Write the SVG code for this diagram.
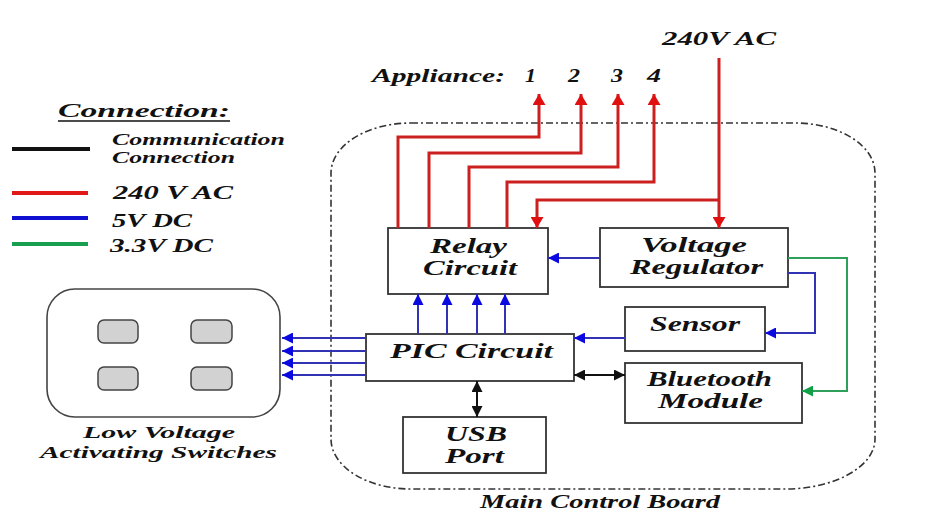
<svg xmlns="http://www.w3.org/2000/svg" width="951" height="517" viewBox="0 0 951 517">
<style>
text{font-family:"Liberation Serif","Times New Roman",serif;font-weight:bold;font-style:italic;fill:#111}
.box{fill:#fff;stroke:#333;stroke-width:1.8}
.red{fill:none;stroke:#cc2020;stroke-width:3}
.blue{fill:none;stroke:#3232b4;stroke-width:2}
.green{fill:none;stroke:#2ea05a;stroke-width:2}
.black{fill:none;stroke:#111;stroke-width:2}
.btn{fill:#d2d2d2;stroke:#444;stroke-width:1.5}
</style>
<defs>
<marker id="ar" markerUnits="userSpaceOnUse" markerWidth="13" markerHeight="13" refX="11" refY="6.5" orient="auto"><path d="M0 0 L11 6.5 L0 13 z" fill="#e01010"/></marker>
<marker id="ab" markerUnits="userSpaceOnUse" markerWidth="12" markerHeight="11" refX="11" refY="5.5" orient="auto"><path d="M0 0 L11 5.5 L0 11 z" fill="#0a0ae0"/></marker>
<marker id="ag" markerUnits="userSpaceOnUse" markerWidth="12" markerHeight="11" refX="11" refY="5.5" orient="auto"><path d="M0 0 L11 5.5 L0 11 z" fill="#10a048"/></marker>
<marker id="ak" markerUnits="userSpaceOnUse" markerWidth="12" markerHeight="11" refX="11" refY="5.5" orient="auto-start-reverse"><path d="M0 0 L11 5.5 L0 11 z" fill="#111"/></marker>
</defs>
<rect width="951" height="517" fill="#fff"/>

<g id="legend">
<text x="58" y="117" font-size="19" textLength="172" lengthAdjust="spacingAndGlyphs">Connection:</text>
<line x1="58" y1="121" x2="230" y2="121" stroke="#111" stroke-width="1.5"/>
<line x1="12" y1="149" x2="90" y2="149" stroke="#111" stroke-width="4"/>
<text x="112" y="145" font-size="16" textLength="173" lengthAdjust="spacingAndGlyphs">Communication</text>
<text x="112" y="163" font-size="16" textLength="123" lengthAdjust="spacingAndGlyphs">Connection</text>
<line x1="12" y1="193" x2="88" y2="193" stroke="#e01818" stroke-width="4"/>
<text x="113" y="199" font-size="18" textLength="120" lengthAdjust="spacingAndGlyphs">240 V AC</text>
<line x1="12" y1="218" x2="88" y2="218" stroke="#1010d0" stroke-width="4"/>
<text x="112" y="227" font-size="18" textLength="80" lengthAdjust="spacingAndGlyphs">5V DC</text>
<line x1="12" y1="244" x2="88" y2="244" stroke="#18a050" stroke-width="4"/>
<text x="110" y="252" font-size="18" textLength="103" lengthAdjust="spacingAndGlyphs">3.3V DC</text>
</g>

<g id="board">
<path d="M411 123 H795 A80 50 0 0 1 875 173 V439 A90 50 0 0 1 785 489 H411 A80 50 0 0 1 331 439 V173 A80 50 0 0 1 411 123 Z" fill="none" stroke="#333" stroke-width="1.6" stroke-dasharray="7 3 2 3"/>
<text x="480" y="508" font-size="18" textLength="240" lengthAdjust="spacingAndGlyphs">Main Control Board</text>
</g>

<g id="labels-top">
<text x="662" y="45" font-size="18" textLength="114" lengthAdjust="spacingAndGlyphs">240V AC</text>
<text x="372" y="82" font-size="18" textLength="133" lengthAdjust="spacingAndGlyphs">Appliance:</text>
<text x="525" y="82" font-size="18" textLength="11" lengthAdjust="spacingAndGlyphs">1</text>
<text x="568" y="82" font-size="18" textLength="12" lengthAdjust="spacingAndGlyphs">2</text>
<text x="611" y="82" font-size="18" textLength="12" lengthAdjust="spacingAndGlyphs">3</text>
<text x="647" y="82" font-size="18" textLength="14" lengthAdjust="spacingAndGlyphs">4</text>
</g>

<g id="switches">
<rect x="47" y="289" width="233" height="128" rx="28" fill="#fff" stroke="#444" stroke-width="1.6"/>
<rect class="btn" x="98" y="320" width="40" height="23" rx="6"/>
<rect class="btn" x="191" y="320" width="41" height="23" rx="6"/>
<rect class="btn" x="98" y="367" width="40" height="23" rx="6"/>
<rect class="btn" x="191" y="367" width="41" height="23" rx="6"/>
<text x="83" y="438" font-size="17" textLength="152" lengthAdjust="spacingAndGlyphs">Low Voltage</text>
<text x="40" y="458" font-size="17" textLength="237" lengthAdjust="spacingAndGlyphs">Activating Switches</text>
</g>

<g id="relay">
<rect class="box" x="388" y="228" width="160" height="66"/>
<text x="430" y="253" font-size="21" textLength="77" lengthAdjust="spacingAndGlyphs">Relay</text>
<text x="423" y="275" font-size="21" textLength="94" lengthAdjust="spacingAndGlyphs">Circuit</text>
</g>
<g id="regulator">
<rect class="box" x="600" y="228" width="188" height="59"/>
<text x="641" y="252" font-size="21" textLength="106" lengthAdjust="spacingAndGlyphs">Voltage</text>
<text x="630" y="274" font-size="21" textLength="133" lengthAdjust="spacingAndGlyphs">Regulator</text>
</g>
<g id="sensor">
<rect class="box" x="625" y="307" width="140" height="44"/>
<text x="650" y="331" font-size="21" textLength="90" lengthAdjust="spacingAndGlyphs">Sensor</text>
</g>
<g id="pic">
<rect class="box" x="366" y="334" width="208" height="47"/>
<text x="390" y="358" font-size="21" textLength="163" lengthAdjust="spacingAndGlyphs">PIC Circuit</text>
</g>
<g id="bluetooth">
<rect class="box" x="625" y="363" width="177" height="60"/>
<text x="647" y="386" font-size="21" textLength="125" lengthAdjust="spacingAndGlyphs">Bluetooth</text>
<text x="658" y="408" font-size="21" textLength="105" lengthAdjust="spacingAndGlyphs">Module</text>
</g>
<g id="usb">
<rect class="box" x="403" y="417" width="143" height="56"/>
<text x="445" y="441" font-size="21" textLength="62" lengthAdjust="spacingAndGlyphs">USB</text>
<text x="445" y="463" font-size="21" textLength="59" lengthAdjust="spacingAndGlyphs">Port</text>
</g>

<g id="connectors">
<path class="red" d="M398 228 V137 H539 V94" marker-end="url(#ar)"/>
<path class="red" d="M429 228 V153 H581 V94" marker-end="url(#ar)"/>
<path class="red" d="M469 228 V167 H618 V94" marker-end="url(#ar)"/>
<path class="red" d="M507 228 V182 H654 V94" marker-end="url(#ar)"/>
<path class="red" d="M719 58 V228" marker-end="url(#ar)"/>
<path class="red" d="M719 200 H537 V228" marker-end="url(#ar)"/>
<path class="blue" d="M600 258 H548" marker-end="url(#ab)"/>
<path class="blue" d="M788 273 H815 V333 H765" marker-end="url(#ab)"/>
<path class="blue" d="M625 338 H574" marker-end="url(#ab)"/>
<path class="blue" d="M418 334 V294" marker-end="url(#ab)"/>
<path class="blue" d="M447 334 V294" marker-end="url(#ab)"/>
<path class="blue" d="M477 334 V294" marker-end="url(#ab)"/>
<path class="blue" d="M505 334 V294" marker-end="url(#ab)"/>
<path class="blue" d="M366 338 H282" marker-end="url(#ab)"/>
<path class="blue" d="M366 351 H282" marker-end="url(#ab)"/>
<path class="blue" d="M366 363 H282" marker-end="url(#ab)"/>
<path class="blue" d="M366 375 H282" marker-end="url(#ab)"/>
<path class="green" d="M788 258 H847 V391 H802" marker-end="url(#ag)"/>
<path class="black" d="M574 375 H625" marker-start="url(#ak)" marker-end="url(#ak)"/>
<path class="black" d="M477 381 V417" marker-start="url(#ak)" marker-end="url(#ak)"/>
</g>
</svg>
